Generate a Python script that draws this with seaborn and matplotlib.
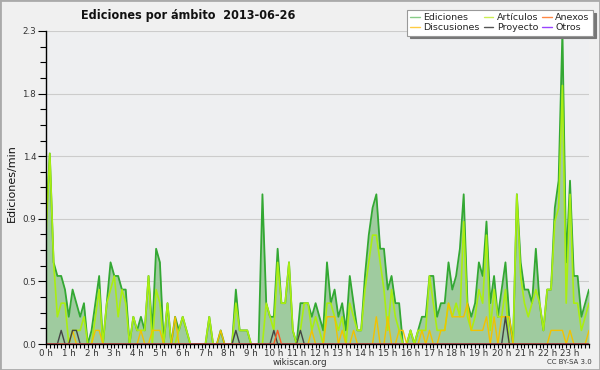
import numpy as np
import pandas as pd
import matplotlib
matplotlib.use("Agg")
import matplotlib.pyplot as plt
import seaborn as sns
from matplotlib.ticker import FixedLocator, MultipleLocator
from matplotlib.patches import Rectangle
from matplotlib.lines import Line2D

# ---- data: edits per minute, 10-minute bins (0:00 .. 23:50) ----
ediciones = [0.9,1.4,0.6,0.5,0.5,0.4,0.2,0.4,0.3,0.2, 0.3,0.0,0.1,0.3,0.5,0.0,0.3,0.6,0.5,0.5,
             0.4,0.4,0.0,0.2,0.1,0.2,0.1,0.5,0.1,0.7, 0.6,0.0,0.3,0.0,0.2,0.1,0.2,0.1,0.0,0.0,
             0.0,0.0,0.0,0.2,0.0,0.0,0.1,0.0,0.0,0.0, 0.4,0.1,0.1,0.1,0.0,0.0,0.0,1.1,0.3,0.2,
             0.2,0.7,0.3,0.3,0.6,0.1,0.0,0.3,0.3,0.3, 0.2,0.3,0.2,0.1,0.6,0.3,0.4,0.2,0.3,0.1,
             0.5,0.3,0.1,0.1,0.5,0.8,1.0,1.1,0.7,0.7, 0.4,0.5,0.3,0.3,0.0,0.0,0.1,0.0,0.1,0.2,
             0.2,0.5,0.5,0.2,0.3,0.3,0.6,0.4,0.5,0.7, 1.1,0.3,0.2,0.3,0.6,0.5,0.9,0.3,0.5,0.2,
             0.4,0.6,0.2,0.0,1.1,0.6,0.4,0.4,0.3,0.7, 0.3,0.1,0.4,0.4,1.0,1.2,2.3,0.6,1.2,0.5,
             0.5,0.2,0.3,0.4]
articulos = [0.8,1.4,0.6,0.2,0.3,0.3,0.0,0.1,0.1,0.1, 0.2,0.0,0.0,0.2,0.4,0.0,0.3,0.4,0.5,0.2,
             0.4,0.3,0.0,0.2,0.1,0.1,0.1,0.5,0.0,0.4, 0.3,0.0,0.3,0.0,0.0,0.1,0.2,0.1,0.0,0.0,
             0.0,0.0,0.0,0.2,0.0,0.0,0.0,0.0,0.0,0.0, 0.3,0.1,0.1,0.1,0.0,0.0,0.0,0.0,0.3,0.2,
             0.1,0.6,0.3,0.3,0.6,0.1,0.0,0.1,0.3,0.3, 0.1,0.2,0.1,0.0,0.3,0.3,0.2,0.1,0.2,0.0,
             0.3,0.2,0.1,0.1,0.4,0.6,0.8,0.8,0.6,0.4, 0.1,0.4,0.2,0.1,0.0,0.0,0.1,0.0,0.1,0.1,
             0.1,0.5,0.3,0.1,0.1,0.1,0.3,0.2,0.3,0.2, 0.9,0.2,0.1,0.2,0.4,0.3,0.8,0.1,0.4,0.2,
             0.2,0.4,0.0,0.0,1.1,0.5,0.3,0.2,0.3,0.4, 0.3,0.1,0.4,0.4,0.9,1.0,1.9,0.3,1.1,0.3,
             0.3,0.1,0.2,0.3]
discusiones = [0,0,0,0,0,0,0,0.1,0,0, 0,0,0,0.1,0.1,0,0,0,0,0,
               0,0,0,0,0,0.1,0,0,0.1,0.1, 0.1,0,0,0,0.2,0,0,0,0,0,
               0,0,0,0,0,0,0.1,0,0,0, 0,0,0,0,0,0,0,0,0,0,
               0,0,0,0,0,0,0,0,0,0, 0.1,0,0,0,0.2,0.2,0.2,0,0.1,0,
               0,0.1,0,0,0,0,0,0.2,0,0, 0.2,0,0,0.1,0.1,0,0,0,0,0.1,
               0,0.1,0,0,0.1,0.1,0.3,0.2,0.2,0.2, 0.2,0.3,0.1,0.1,0.1,0.1,0.2,0,0.2,0,
               0.2,0.2,0.2,0,0,0,0,0,0,0, 0,0,0,0.1,0.1,0.1,0.1,0,0.1,0,
               0,0,0,0.1]
proyecto = [0]*144
for i, v in [(4, 0.1), (7, 0.1), (8, 0.1), (50, 0.1), (60, 0.1), (67, 0.1), (121, 0.2)]:
    proyecto[i] = v
anexos = [0]*144
anexos[61] = 0.1
otros = [0]*144

hour_labels = [f"{h} h" for h in range(24)]
ytick_vals = [0.0, 0.46, 0.92, 1.38, 1.84, 2.3]
ytick_labels = ["0.0", "0.5", "0.9", "1.4", "1.8", "2.3"]

df = pd.DataFrame({
    "hora": np.arange(144) / 6.0,
    "Ediciones": ediciones,
    "Artículos": articulos,
    "Discusiones": discusiones,
    "Proyecto": proyecto,
    "Anexos": anexos,
    "Otros": otros,
})

sns.set_theme(style="white")
plt.rcParams['font.family'] = ['DejaVu Sans']

fig = plt.figure(figsize=(6, 3.7), dpi=100, facecolor='#f0f0f0')
ax = fig.add_axes([46/600, 1-344/370, 543/600, 313/370])
ax.set_facecolor('#eeeff1')

ax.fill_between(df["hora"], df["Ediciones"], 0, color='#9fcb9f', lw=0, zorder=1.5)
sns.lineplot(data=df, x="hora", y="Ediciones", color='#33a833', lw=1.3, ax=ax)
sns.lineplot(data=df, x="hora", y="Artículos", color='#aaee11', lw=1.2, ax=ax)
sns.lineplot(data=df, x="hora", y="Discusiones", color='#f2c200', lw=1.0, ax=ax)
sns.lineplot(data=df, x="hora", y="Proyecto", color='#444444', lw=1.0, ax=ax)
sns.lineplot(data=df, x="hora", y="Anexos", color='#ff5a22', lw=1.0, ax=ax)
sns.lineplot(data=df, x="hora", y="Otros", color='#9933ff', lw=1.0, ax=ax)

ax.set_xlim(0, 143/6)
ax.set_ylim(0, 2.3)
ax.set_xlabel("")
ax.set_ylabel("")

ax.yaxis.set_major_locator(FixedLocator(ytick_vals))
ax.set_yticklabels(ytick_labels)
ax.yaxis.set_minor_locator(MultipleLocator(0.115))
ax.set_xticks(range(24))
ax.set_xticklabels(hour_labels)
ax.xaxis.set_minor_locator(MultipleLocator(1/6))

ax.tick_params(axis='both', which='both', direction='out', colors='#000000',
               labelsize=6.3, width=0.8, labelcolor='#333333', pad=1)
ax.tick_params(axis='y', which='major', length=6)
ax.tick_params(axis='y', which='minor', length=4)
ax.tick_params(axis='x', which='both', length=3, pad=0.3)
ax.tick_params(left=True, bottom=True, which='both')

ax.yaxis.grid(True, which='major', color='#cccccc', lw=0.8)
ax.set_axisbelow(True)
for s in ['top', 'right']:
    ax.spines[s].set_visible(False)
for s in ['left', 'bottom']:
    ax.spines[s].set_color('#000000')
    ax.spines[s].set_linewidth(1.0)
    ax.spines[s].set_zorder(5)

handles = [
    Line2D([], [], color='#88cc88', lw=1), Line2D([], [], color='#ffcc44', lw=1),
    Line2D([], [], color='#ccee55', lw=1), Line2D([], [], color='#555555', lw=1),
    Line2D([], [], color='#ff8844', lw=1), Line2D([], [], color='#9944ff', lw=1),
]
labels = ["Ediciones", "Discusiones", "Artículos", "Proyecto", "Anexos", "Otros"]
leg = fig.legend(handles, labels, loc='upper right', bbox_to_anchor=(593/600, 1-10/370),
                 ncol=3, fontsize=6.8, frameon=True, fancybox=False,
                 shadow={'color': '#777777', 'alpha': 1.0},
                 handlelength=1.0, handletextpad=0.4, columnspacing=0.4,
                 borderpad=0.35, labelspacing=0.1, borderaxespad=0)
leg.get_frame().set_edgecolor('#999999')
leg.get_frame().set_facecolor('#ffffff')
leg.get_frame().set_linewidth(0.8)

fig.text(188/600, 1-15/370, "Ediciones por ámbito  2013-06-26", ha='center', va='center',
         fontsize=9, fontweight='bold', fontstretch='condensed', color='#111111')
fig.text(12/600, 1-183/370, "Ediciones/min", rotation=90, ha='center', va='center',
         fontsize=8, color='#111111')
fig.text(300/600, 1-362.5/370, "wikiscan.org", ha='center', va='center',
         fontsize=6.3, color='#333333')
fig.text(569/600, 1-362.5/370, "CC BY-SA 3.0", ha='center', va='center',
         fontsize=5, color='#333333')

fig.patches.append(Rectangle((0, 0), 1, 1, transform=fig.transFigure, fill=False,
                             edgecolor='#aaaaaa', lw=2))

fig.savefig("out.png", dpi=100, facecolor=fig.get_facecolor())
